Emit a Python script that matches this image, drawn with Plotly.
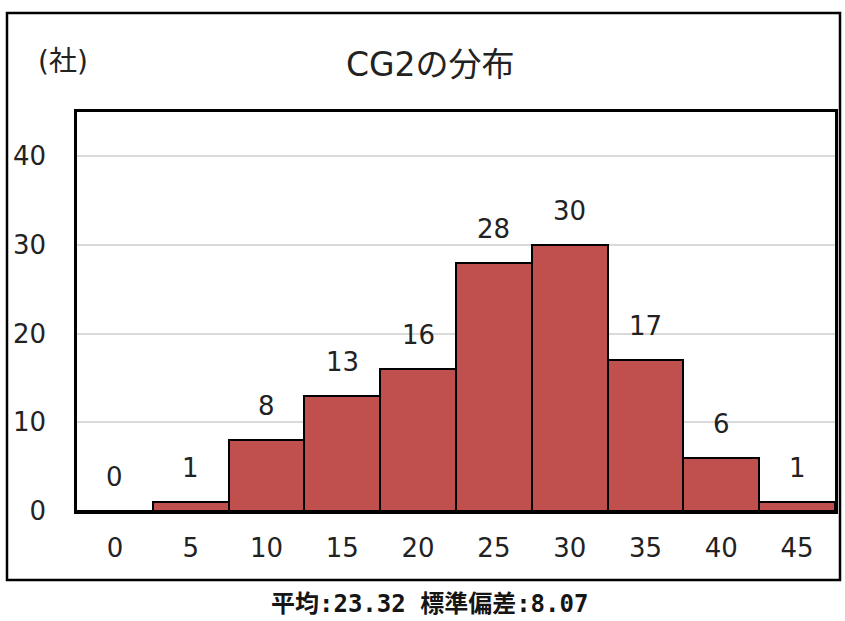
import plotly.graph_objects as go

# Histogram of CG2 scores (number of companies per bin)
bins = [0, 5, 10, 15, 20, 25, 30, 35, 40, 45]
counts = [0, 1, 8, 13, 16, 28, 30, 17, 6, 1]
y_ticks = [0, 10, 20, 30, 40]

title_text = "CG2の分布"
unit_text = "(社)"
footer_text = "平均:23.32 標準偏差:8.07"

BAR_COLOR = "#C0504D"
FONT = "DejaVu Sans, Noto Sans CJK JP, sans-serif"
FOOT_FONT = "DejaVu Sans Mono, Noto Sans CJK JP, monospace"

W, H = 845, 621
ML, MR, MT, MB = 77, 10, 112, 110
PW = W - ML - MR
PH = H - MT - MB


def px_x(px):
    return (px - ML) / PW


def px_y(py):
    return (H - MB - py) / PH


fig = go.Figure()
fig.add_trace(go.Bar(
    x=bins,
    y=counts,
    width=5,
    marker=dict(color=BAR_COLOR, line=dict(color="black", width=2)),
    hoverinfo="x+y",
))

# value labels above each bar
for b, c in zip(bins, counts):
    fig.add_annotation(
        x=b, y=c, text=str(c), showarrow=False,
        yanchor="middle", yshift=34,
        font=dict(family=FONT, size=26, color="#222"),
    )

fig.update_layout(
    width=W, height=H,
    margin=dict(l=ML, r=MR, t=MT, b=MB, autoexpand=False),
    paper_bgcolor="white",
    plot_bgcolor="white",
    bargap=0,
    showlegend=False,
    font=dict(family=FONT, size=26, color="#222"),
    xaxis=dict(
        range=[-2.5, 47.5],
        tickvals=bins,
        ticktext=[str(b) for b in bins],
        showgrid=False,
        zeroline=False,
        showline=True, mirror=True, linecolor="black", linewidth=2.5,
        ticks="", ticklabelstandoff=12,
        tickfont=dict(family=FONT, size=26, color="#222"),
        automargin=False,
        fixedrange=True,
    ),
    yaxis=dict(
        range=[0, 45],
        tickvals=y_ticks,
        showgrid=True, gridcolor="#d9d9d9", gridwidth=1.5,
        zeroline=False,
        showline=True, mirror=True, linecolor="black", linewidth=2.5,
        ticks="", ticklabelstandoff=23,
        tickfont=dict(family=FONT, size=26, color="#222"),
        automargin=False,
        fixedrange=True,
    ),
)

# outer frame around the chart
fig.add_shape(
    type="rect", xref="paper", yref="paper",
    x0=px_x(7), x1=px_x(840), y0=px_y(580), y1=px_y(13),
    line=dict(color="black", width=2.5), fillcolor="rgba(0,0,0,0)",
    layer="above",
)

fig.add_annotation(
    xref="paper", yref="paper", x=px_x(430), y=px_y(65),
    text=title_text, showarrow=False, xanchor="center", yanchor="middle",
    font=dict(family=FONT, size=33, color="#222"),
)
fig.add_annotation(
    xref="paper", yref="paper", x=px_x(36), y=px_y(62),
    text=unit_text, showarrow=False, xanchor="left", yanchor="middle",
    font=dict(family=FONT, size=28, color="#222"),
)
fig.add_annotation(
    xref="paper", yref="paper", x=px_x(429), y=px_y(604),
    text=footer_text, showarrow=False, xanchor="center", yanchor="middle",
    font=dict(family=FOOT_FONT, size=24, color="#151515", weight="bold"),
)

fig.write_html("out.html")
